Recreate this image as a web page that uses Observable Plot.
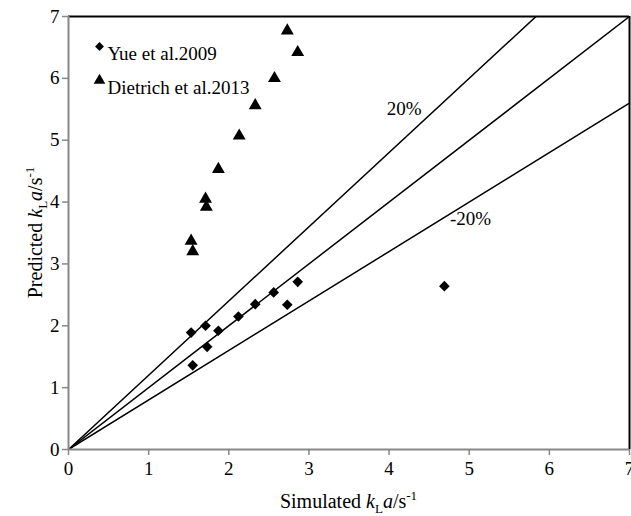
<!DOCTYPE html>
<html><head><meta charset="utf-8">
<script src="https://cdn.jsdelivr.net/npm/d3@7"></script>
<script src="https://cdn.jsdelivr.net/npm/@observablehq/plot@0.6"></script>
<style>
body{margin:0;background:#fff;}
svg, svg text { font-family: "Liberation Serif", "DejaVu Serif", serif !important; }
</style>
</head><body><div id="chart"></div>
<script>
// Yue et al. 2009 (diamonds)
const yueX = [1.53, 1.55, 1.71, 1.73, 1.87, 2.12, 2.33, 2.56, 2.73, 2.86, 4.69];
const yueY = [1.89, 1.36, 2.00, 1.66, 1.92, 2.15, 2.35, 2.54, 2.34, 2.71, 2.64];
// Dietrich et al. 2013 (triangles)
const dietX = [1.53, 1.55, 1.71, 1.72, 1.87, 2.13, 2.33, 2.57, 2.73, 2.86];
const dietY = [3.37, 3.20, 4.05, 3.92, 4.53, 5.07, 5.56, 6.00, 6.77, 6.42];
const ticks = [0, 1, 2, 3, 4, 5, 6, 7];
const bandSlopes = [1.2, 1, 0.8];
const bandText = ["20%", "-20%"];
const bandTextX = [3.97, 4.76];
const bandTextY = [5.5, 3.72];
const legendNames = ["Yue et al.2009", "Dietrich et al.2013"];
const legendSymbols = ["diamond2", "triangle"];

const yue = yueX.map((x, i) => ({x, y: yueY[i]}));
const diet = dietX.map((x, i) => ({x, y: dietY[i]}));
const lines = bandSlopes.flatMap(s => [0, 7].map(x => ({s, x, y: s * x})));
const bandLabels = bandText.map((t, i) => ({t, x: bandTextX[i], y: bandTextY[i]}));

const FONT = "'Liberation Serif', 'DejaVu Serif', serif";
const W = 631, H = 516;

const legendMarks = legendNames.flatMap((name, i) => [
  Plot.dot([name], {frameAnchor: "top-left", dx: 31, dy: 30 + 34 * i, symbol: legendSymbols[i], r: i ? 4.3 : 4, fill: "black", stroke: "none"}),
  Plot.text([name], {frameAnchor: "top-left", dx: 39, dy: 30 + 34 * i, text: d => d, textAnchor: "start", fontSize: 19, fill: "black"})
]);

const plot = Plot.plot({
  width: W, height: H,
  marginLeft: 68, marginRight: 2, marginTop: 16, marginBottom: 67,
  style: {fontFamily: FONT, fontSize: "19px", color: "black", background: "white"},
  x: {domain: [0, 7], ticks: ticks},
  y: {domain: [0, 7], ticks: ticks},
  marks: [
    Plot.line(lines, {x: "x", y: "y", z: "s", stroke: "black", strokeWidth: 1.5, clip: true}),
    Plot.ruleY([7], {stroke: "black", strokeWidth: 2}),
    Plot.ruleX([7], {stroke: "black", strokeWidth: 2}),
    Plot.ruleY([0], {stroke: "#888", strokeWidth: 2}),
    Plot.ruleX([0], {stroke: "#888", strokeWidth: 2}),
    Plot.axisX({ticks, tickFormat: d3.format("d"), tickSize: 6, tickPadding: 6, stroke: "#888", strokeWidth: 1.5, label: null, fill: "black"}),
    Plot.axisY({ticks, tickFormat: d3.format("d"), tickSize: 6, tickPadding: 3, stroke: "#888", strokeWidth: 1.5, label: null, fill: "black"}),
    Plot.dot(yue, {x: "x", y: "y", symbol: "diamond2", r: 4.8, fill: "black", stroke: "none"}),
    Plot.dot(diet, {x: "x", y: "y", symbol: "triangle", r: 4.8, fill: "black", stroke: "none"}),
    Plot.text(bandLabels, {x: "x", y: "y", text: "t", textAnchor: "start", fontSize: 19, fill: "black"}),
    ...legendMarks
  ]
});
document.getElementById("chart").appendChild(plot);

// axis titles with italic / subscript / superscript parts
const sx = plot.scale("x"), sy = plot.scale("y");
const cx = (sx.range[0] + sx.range[1]) / 2;
const cy = (sy.range[0] + sy.range[1]) / 2;
function title(sel, word) {
  const t = sel.attr("text-anchor", "middle").attr("font-family", FONT).attr("font-size", 20).attr("fill", "black");
  t.append("tspan").text(word + " ");
  t.append("tspan").attr("font-style", "italic").text("k");
  t.append("tspan").attr("font-size", 13).attr("dy", 5).text("L");
  t.append("tspan").attr("font-style", "italic").attr("dy", -5).text("a");
  t.append("tspan").text("/s");
  t.append("tspan").attr("font-size", 13).attr("dy", -8).text("-1");
}
const svg = d3.select(plot);
title(svg.append("text").attr("x", cx).attr("y", 508), "Simulated");
title(svg.append("text").attr("transform", `translate(42,${cy}) rotate(-90)`), "Predicted");
</script>
</body></html>
